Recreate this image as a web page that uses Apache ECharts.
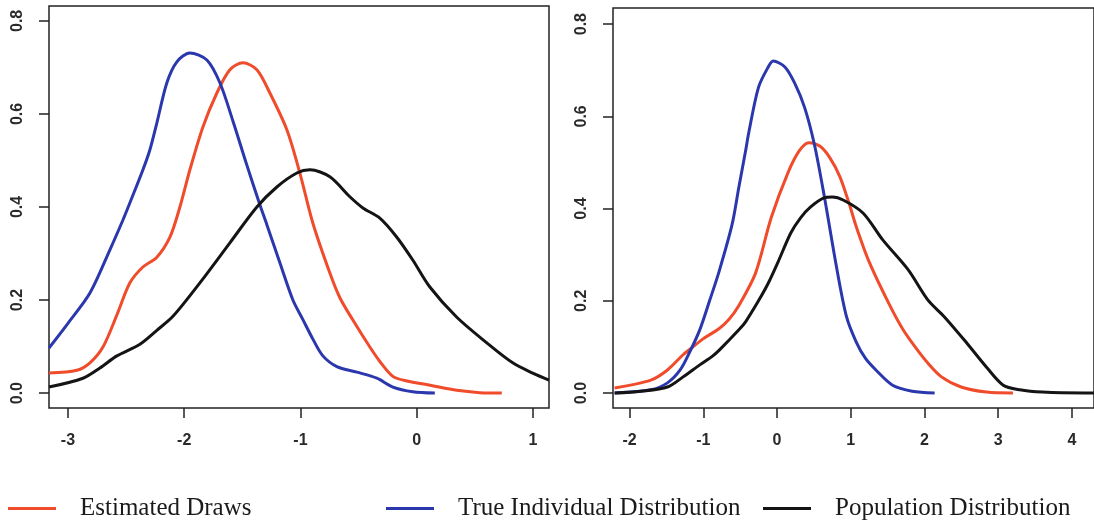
<!DOCTYPE html>
<html>
<head>
<meta charset="utf-8">
<title>Estimated draws vs distributions</title>
<script src="https://cdn.jsdelivr.net/npm/echarts@6/dist/echarts.min.js"></script>
<style>
  html, body { margin: 0; padding: 0; background: #fff; }
  #main { width: 1094px; height: 522px; }
</style>
</head>
<body>
<div id="main"></div>
<script type="text/javascript">
// --- data: [x, density] ---
var leftEstimated = [[-3.163,0.043],[-2.923,0.049],[-2.811,0.065],[-2.699,0.099],[-2.579,0.168],[-2.467,0.237],[-2.355,0.271],[-2.235,0.292],[-2.123,0.335],[-2.037,0.4],[-1.951,0.48],[-1.839,0.572],[-1.719,0.645],[-1.607,0.695],[-1.495,0.71],[-1.375,0.695],[-1.263,0.645],[-1.117,0.566],[-1.005,0.473],[-0.893,0.365],[-0.747,0.258],[-0.661,0.205],[-0.549,0.157],[-0.403,0.099],[-0.317,0.068],[-0.205,0.036],[-0.085,0.026],[0.113,0.017],[0.345,0.006],[0.543,0.001],[0.732,0.0]];
var leftTrue = [[-3.163,0.097],[-3.0,0.15],[-2.811,0.215],[-2.639,0.308],[-2.527,0.372],[-2.467,0.409],[-2.355,0.48],[-2.295,0.523],[-2.235,0.581],[-2.149,0.667],[-2.063,0.712],[-1.951,0.731],[-1.805,0.716],[-1.693,0.667],[-1.581,0.585],[-1.461,0.49],[-1.349,0.405],[-1.289,0.362],[-1.177,0.28],[-1.065,0.2],[-0.979,0.158],[-0.893,0.116],[-0.807,0.08],[-0.687,0.057],[-0.515,0.045],[-0.343,0.032],[-0.205,0.013],[-0.034,0.003],[0.156,0.0]];
var leftPopulation = [[-3.163,0.013],[-2.871,0.032],[-2.725,0.054],[-2.579,0.08],[-2.381,0.105],[-2.235,0.135],[-2.097,0.165],[-1.865,0.237],[-1.607,0.323],[-1.375,0.4],[-1.203,0.443],[-1.031,0.473],[-0.919,0.48],[-0.747,0.465],[-0.575,0.422],[-0.463,0.398],[-0.317,0.376],[-0.171,0.335],[-0.034,0.286],[0.113,0.228],[0.345,0.163],[0.603,0.108],[0.826,0.065],[0.998,0.043],[1.138,0.028]];

var rightEstimated = [[-2.204,0.011],[-1.713,0.028],[-1.487,0.05],[-1.275,0.083],[-1.142,0.1],[-1.0,0.118],[-0.784,0.14],[-0.651,0.16],[-0.518,0.19],[-0.292,0.26],[-0.08,0.38],[0.146,0.477],[0.3,0.525],[0.43,0.543],[0.584,0.535],[0.717,0.51],[0.85,0.47],[0.98,0.41],[1.076,0.36],[1.248,0.285],[1.514,0.195],[1.7,0.14],[1.873,0.1],[2.045,0.065],[2.231,0.035],[2.497,0.013],[2.842,0.002],[3.2,0.0]];
var rightTrue = [[-2.204,0.0],[-1.713,0.007],[-1.487,0.022],[-1.315,0.05],[-1.182,0.09],[-1.049,0.137],[-0.916,0.2],[-0.784,0.265],[-0.611,0.365],[-0.518,0.447],[-0.425,0.527],[-0.385,0.564],[-0.252,0.663],[-0.12,0.707],[-0.053,0.72],[0.106,0.707],[0.239,0.672],[0.372,0.62],[0.505,0.54],[0.637,0.43],[0.81,0.27],[0.943,0.165],[1.076,0.11],[1.2,0.075],[1.341,0.05],[1.567,0.017],[1.833,0.004],[2.138,0.0]];
var rightPopulation = [[-2.204,0.0],[-1.846,0.004],[-1.487,0.013],[-1.275,0.035],[-1.049,0.061],[-0.876,0.08],[-0.784,0.093],[-0.518,0.137],[-0.425,0.155],[-0.252,0.2],[-0.12,0.238],[0.013,0.284],[0.186,0.347],[0.319,0.38],[0.452,0.403],[0.637,0.423],[0.75,0.425],[0.903,0.418],[1.169,0.39],[1.434,0.332],[1.78,0.267],[2.045,0.202],[2.271,0.165],[2.576,0.108],[2.842,0.056],[3.068,0.017],[3.293,0.007],[3.599,0.002],[4.17,0.0],[4.3,0.0]];

var seriesNames = ['Estimated Draws', 'True Individual Distribution', 'Population Distribution'];
var seriesColors = ['#f04b2b', '#2b38ad', '#141414'];
var leftTicks = [-3, -2, -1, 0, 1];
var rightTicks = [-2, -1, 0, 1, 2, 3, 4];
var yTicks = [0, 0.2, 0.4, 0.6, 0.8];

var myChart = echarts.init(document.getElementById('main'));

var tickFont = { fontFamily: 'Liberation Sans, Arial, sans-serif', fontSize: 16, fontWeight: 'bold', color: '#2a2a2a' };

function xAxisFor(idx, min, max, ticks) {
    return {
        type: 'value', gridIndex: idx, min: min, max: max,
        axisLine: { show: false, onZero: false },
        splitLine: { show: false },
        axisTick: { show: true, length: 10, customValues: ticks, lineStyle: { color: '#222', width: 1.5 } },
        axisLabel: Object.assign({ margin: 25, customValues: ticks, formatter: function (v) { return String(v); } }, tickFont)
    };
}
function yAxisFor(idx, min, max) {
    return {
        type: 'value', gridIndex: idx, min: min, max: max,
        axisLine: { show: false, onZero: false },
        splitLine: { show: false },
        axisTick: { show: true, length: 10, customValues: yTicks, lineStyle: { color: '#222', width: 1.5 } },
        axisLabel: Object.assign({ margin: 23, rotate: 90, customValues: yTicks, formatter: function (v) { return v.toFixed(1); } }, tickFont)
    };
}
function line(name, k, data, idx) {
    return {
        name: name, type: 'line', xAxisIndex: idx, yAxisIndex: idx,
        data: data, smooth: 0.3, showSymbol: false, symbol: 'none',
        lineStyle: { color: seriesColors[k], width: 3 },
        itemStyle: { color: seriesColors[k] },
        animation: false
    };
}
function legendAt(left, k) {
    return {
        left: left, top: 496, padding: 0, data: [seriesNames[k]],
        icon: 'rect', itemWidth: 48, itemHeight: 3,
        textStyle: { fontFamily: 'Liberation Serif, Times New Roman, serif', fontSize: 25, color: '#1a1a1a', padding: [0, 0, 0, 19] }
    };
}

myChart.setOption({
    backgroundColor: '#fff',
    grid: [
        { left: 49, top: 6, width: 500, height: 402, show: true, borderColor: '#222', borderWidth: 1.5 },
        { left: 613, top: 8, width: 491, height: 400, show: true, borderColor: '#222', borderWidth: 1.5 }
    ],
    xAxis: [xAxisFor(0, -3.163, 1.138, leftTicks), xAxisFor(1, -2.226, 4.3, rightTicks)],
    yAxis: [yAxisFor(0, -0.032, 0.832), yAxisFor(1, -0.0325, 0.835)],
    legend: [legendAt(8, 0), legendAt(386, 1), legendAt(763, 2)],
    series: [
        line(seriesNames[0], 0, leftEstimated, 0),
        line(seriesNames[1], 1, leftTrue, 0),
        line(seriesNames[2], 2, leftPopulation, 0),
        line(seriesNames[0], 0, rightEstimated, 1),
        line(seriesNames[1], 1, rightTrue, 1),
        line(seriesNames[2], 2, rightPopulation, 1)
    ]
});
</script>
</body>
</html>
